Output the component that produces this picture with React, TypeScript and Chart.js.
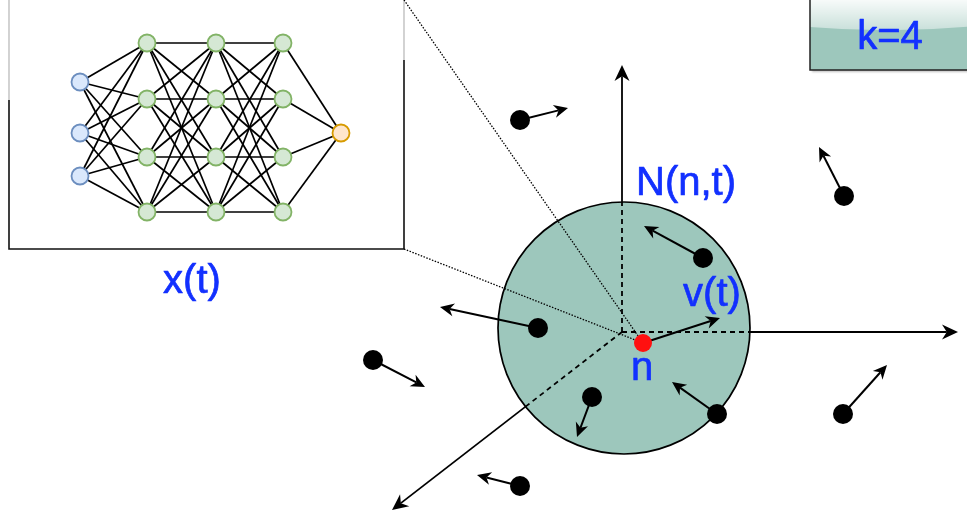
import React, { useEffect, useRef } from "react";
import { Chart, registerables } from "chart.js";

Chart.register(...registerables);

const CANVAS_W = 967;
const CANVAS_H = 518;

// Neural network (inset)
const inputLayerX = [80];
const inputLayerY = [82, 133, 176];
const hiddenLayerX = [147, 216, 283];
const hiddenLayerY = [43, 99, 157, 212];
const outputLayerX = [341];
const outputLayerY = [133];

// Particles and their velocity tips
const particleX = [520, 844, 843, 703, 538, 373, 592, 520, 717];
const particleY = [120, 196, 414, 258, 328, 360, 397, 486, 414];
const particleTipX = [568, 819, 887, 644, 440, 425, 577, 477, 672];
const particleTipY = [108, 147, 365, 226, 307, 387, 437, 475, 382];

// Focus particle n and its velocity v(t)
const focusX = [643];
const focusY = [343];
const focusTipX = [720];
const focusTipY = [318];

// Neighbourhood N(n,t)
const neighbourCenterX = [624];
const neighbourCenterY = [328];
const neighbourRadius = [126];

// Sector axes
const axisOriginX = [622];
const axisOriginY = [332];
const axisEndX = [622, 958, 392];
const axisEndY = [65, 332, 510];

// Inset box and zoom lines
const insetBoxX = [9, 404];
const insetBoxY = [-10, 249];
const zoomLineStartX = [404, 404];
const zoomLineStartY = [0, 249];

// Labels
const labelTexts = ["x(t)", "N(n,t)", "v(t)", "n"];
const labelX = [192, 686, 712, 642];
const labelY = [293, 195, 306, 380];
const kText = ["k=4"];
const kBoxX = [810, 975];
const kBoxY = [-10, 70];
const kTextPos = [890, 49];

const BLUE = "#1230ff";
const TEAL = "#9dc7bc";

function arrowHead(ctx: CanvasRenderingContext2D, x1: number, y1: number, x2: number, y2: number, len: number, half: number) {
  const a = Math.atan2(y2 - y1, x2 - x1);
  const c = Math.cos(a);
  const s = Math.sin(a);
  ctx.beginPath();
  ctx.moveTo(x2, y2);
  ctx.lineTo(x2 - len * c + half * s, y2 - len * s - half * c);
  ctx.lineTo(x2 - 0.7 * len * c, y2 - 0.7 * len * s);
  ctx.lineTo(x2 - len * c - half * s, y2 - len * s + half * c);
  ctx.closePath();
  ctx.fill();
}

function arrow(ctx: CanvasRenderingContext2D, x1: number, y1: number, x2: number, y2: number, len: number, half: number) {
  const a = Math.atan2(y2 - y1, x2 - x1);
  ctx.beginPath();
  ctx.moveTo(x1, y1);
  ctx.lineTo(x2 - 0.7 * len * Math.cos(a), y2 - 0.7 * len * Math.sin(a));
  ctx.stroke();
  arrowHead(ctx, x1, y1, x2, y2, len, half);
}

const diagramPlugin = {
  id: "diagram",
  beforeDatasetsDraw(chart: any) {
    const ctx: CanvasRenderingContext2D = chart.ctx;
    const sx = chart.scales.x;
    const sy = chart.scales.y;
    const X = (v: number) => sx.getPixelForValue(v);
    const Y = (v: number) => sy.getPixelForValue(v);
    ctx.save();

    // inset box
    const bl = X(insetBoxX[0]), br = X(insetBoxX[1]);
    const bt = Y(insetBoxY[0]), bb = Y(insetBoxY[1]);
    ctx.fillStyle = "#ffffff";
    ctx.fillRect(bl, bt, br - bl, bb - bt);
    ctx.lineWidth = 1.6;
    ctx.strokeStyle = "#111";
    ctx.beginPath();
    ctx.moveTo(bl, Y(100));
    ctx.lineTo(bl, bb);
    ctx.lineTo(br, bb);
    ctx.lineTo(br, Y(60));
    ctx.stroke();
    ctx.strokeStyle = "#c8c8c8";
    ctx.beginPath();
    ctx.moveTo(bl, bt);
    ctx.lineTo(bl, Y(100));
    ctx.moveTo(br, bt);
    ctx.lineTo(br, Y(60));
    ctx.stroke();

    // network edges
    ctx.strokeStyle = "#000";
    ctx.lineWidth = 1.7;
    const layers: { x: number; y: number }[][] = [];
    layers.push(inputLayerY.map((y) => ({ x: inputLayerX[0], y })));
    hiddenLayerX.forEach((hx) => layers.push(hiddenLayerY.map((y) => ({ x: hx, y }))));
    layers.push(outputLayerY.map((y) => ({ x: outputLayerX[0], y })));
    for (let l = 0; l < layers.length - 1; l++) {
      for (const a of layers[l]) {
        for (const b of layers[l + 1]) {
          ctx.beginPath();
          ctx.moveTo(X(a.x), Y(a.y));
          ctx.lineTo(X(b.x), Y(b.y));
          ctx.stroke();
        }
      }
    }

    // neighbourhood circle
    const cx = X(neighbourCenterX[0]);
    const cy = Y(neighbourCenterY[0]);
    const r = Math.abs(X(neighbourCenterX[0] + neighbourRadius[0]) - cx);
    ctx.beginPath();
    ctx.arc(cx, cy, r, 0, Math.PI * 2);
    ctx.fillStyle = TEAL;
    ctx.fill();
    ctx.lineWidth = 1.7;
    ctx.strokeStyle = "#000";
    ctx.stroke();

    // axes: dashed inside, solid outside
    const ox = X(axisOriginX[0]);
    const oy = Y(axisOriginY[0]);
    ctx.fillStyle = "#000";
    for (let i = 0; i < axisEndX.length; i++) {
      const ex = X(axisEndX[i]);
      const ey = Y(axisEndY[i]);
      const L = Math.hypot(ex - ox, ey - oy);
      const dx = (ex - ox) / L;
      const dy = (ey - oy) / L;
      const fx = ox - cx, fy = oy - cy;
      const b = dx * fx + dy * fy;
      const c = fx * fx + fy * fy - r * r;
      const t = -b + Math.sqrt(b * b - c);
      const ix = ox + dx * t, iy = oy + dy * t;
      ctx.lineWidth = 1.8;
      ctx.setLineDash([5, 4]);
      ctx.beginPath();
      ctx.moveTo(ox, oy);
      ctx.lineTo(ix, iy);
      ctx.stroke();
      ctx.setLineDash([]);
      arrow(ctx, ix, iy, ex, ey, 16, 7.5);
    }

    // dotted zoom lines
    ctx.lineWidth = 1.3;
    ctx.setLineDash([1.5, 1.5]);
    for (let i = 0; i < zoomLineStartX.length; i++) {
      ctx.beginPath();
      ctx.moveTo(X(zoomLineStartX[i]), Y(zoomLineStartY[i]));
      ctx.lineTo(X(focusX[0]), Y(focusY[0]));
      ctx.stroke();
    }
    ctx.setLineDash([]);

    // particle velocity arrows
    ctx.lineWidth = 2;
    for (let i = 0; i < particleX.length; i++) {
      arrow(ctx, X(particleX[i]), Y(particleY[i]), X(particleTipX[i]), Y(particleTipY[i]), 14, 6.5);
    }
    arrow(ctx, X(focusX[0]), Y(focusY[0]), X(focusTipX[0]), Y(focusTipY[0]), 14, 6.5);
    ctx.restore();
  },
  afterDatasetsDraw(chart: any) {
    const ctx: CanvasRenderingContext2D = chart.ctx;
    const sx = chart.scales.x;
    const sy = chart.scales.y;
    const X = (v: number) => sx.getPixelForValue(v);
    const Y = (v: number) => sy.getPixelForValue(v);
    ctx.save();

    // k box with glass effect
    const kl = X(kBoxX[0]), kr = X(kBoxX[1]);
    const kt = Y(kBoxY[0]), kb = Y(kBoxY[1]);
    ctx.shadowColor = "rgba(0,0,0,0.25)";
    ctx.shadowOffsetX = 2;
    ctx.shadowOffsetY = 2;
    ctx.shadowBlur = 2;
    ctx.fillStyle = TEAL;
    ctx.fillRect(kl, kt, kr - kl, kb - kt);
    ctx.shadowColor = "transparent";
    const g = ctx.createLinearGradient(0, Y(0), 0, Y(30));
    g.addColorStop(0, "rgba(255,255,255,0.92)");
    g.addColorStop(1, "rgba(255,255,255,0.45)");
    ctx.fillStyle = g;
    ctx.beginPath();
    ctx.moveTo(kl, kt);
    ctx.lineTo(kr, kt);
    ctx.lineTo(kr, Y(26));
    ctx.quadraticCurveTo((kl + kr) / 2, Y(34), kl, Y(27));
    ctx.closePath();
    ctx.fill();
    ctx.lineWidth = 1.5;
    ctx.strokeStyle = "#222";
    ctx.beginPath();
    ctx.moveTo(kl, kt);
    ctx.lineTo(kl, kb);
    ctx.lineTo(kr, kb);
    ctx.stroke();

    ctx.fillStyle = BLUE;
    ctx.strokeStyle = BLUE;
    ctx.lineWidth = 0.7;
    ctx.lineJoin = "round";
    ctx.font = '40px "Liberation Sans", Arial, sans-serif';
    ctx.textAlign = "center";
    ctx.textBaseline = "alphabetic";
    ctx.fillText(kText[0], X(kTextPos[0]), Y(kTextPos[1]));
    ctx.strokeText(kText[0], X(kTextPos[0]), Y(kTextPos[1]));
    for (let i = 0; i < labelTexts.length; i++) {
      ctx.fillText(labelTexts[i], X(labelX[i]), Y(labelY[i]));
      ctx.strokeText(labelTexts[i], X(labelX[i]), Y(labelY[i]));
    }
    ctx.restore();
  },
};

export default function App() {
  const canvasRef = useRef<HTMLCanvasElement | null>(null);

  useEffect(() => {
    const canvas = canvasRef.current;
    if (!canvas) return;
    const pts = (xs: number[], ys: number[]) => ys.map((y, i) => ({ x: xs.length === 1 ? xs[0] : xs[i], y }));
    const hidden: { x: number; y: number }[] = [];
    hiddenLayerX.forEach((hx) => hiddenLayerY.forEach((hy) => hidden.push({ x: hx, y: hy })));

    const chart = new Chart(canvas, {
      type: "scatter",
      data: {
        datasets: [
          {
            label: "input",
            data: pts(inputLayerX, inputLayerY),
            backgroundColor: "#dae8fc",
            borderColor: "#6c8ebf",
            borderWidth: 1.8,
            pointRadius: 8.5,
          },
          {
            label: "hidden",
            data: hidden,
            backgroundColor: "#d5e8d4",
            borderColor: "#82b366",
            borderWidth: 1.8,
            pointRadius: 8.5,
          },
          {
            label: "output",
            data: pts(outputLayerX, outputLayerY),
            backgroundColor: "#ffe6cc",
            borderColor: "#d79b00",
            borderWidth: 1.8,
            pointRadius: 8.5,
          },
          {
            label: "particles",
            data: pts(particleX, particleY),
            backgroundColor: "#000",
            borderColor: "#000",
            borderWidth: 0,
            pointRadius: 10,
          },
          {
            label: "n",
            data: pts(focusX, focusY),
            backgroundColor: "#ff1010",
            borderColor: "#ff1010",
            borderWidth: 0,
            pointRadius: 9,
          },
        ],
      },
      options: {
        animation: false,
        responsive: false,
        events: [],
        layout: { padding: 0, autoPadding: false },
        plugins: { legend: { display: false }, tooltip: { enabled: false } },
        scales: {
          x: { type: "linear", min: 0, max: CANVAS_W, display: false },
          y: { type: "linear", min: 0, max: CANVAS_H, reverse: true, display: false },
        },
      },
      plugins: [diagramPlugin],
    });
    return () => chart.destroy();
  }, []);

  return (
    <div style={{ position: "absolute", left: 0, top: 0, width: CANVAS_W, height: CANVAS_H, background: "#fff" }}>
      <canvas ref={canvasRef} width={CANVAS_W} height={CANVAS_H} style={{ display: "block" }} />
    </div>
  );
}
